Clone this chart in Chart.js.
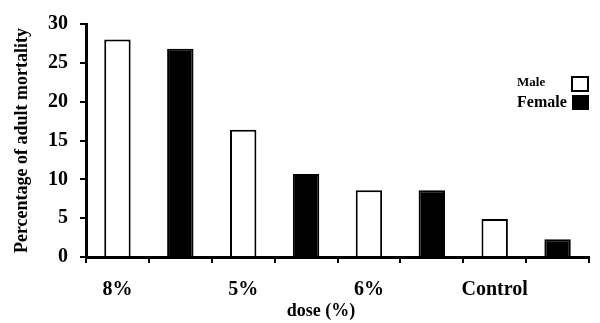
<!DOCTYPE html>
<html>
<head>
<meta charset="utf-8">
<script src="https://cdn.jsdelivr.net/npm/chart.js@4.4.1/dist/chart.umd.min.js"></script>
<style>
  html, body { margin: 0; padding: 0; background: #fff; }
  #wrap { width: 600px; height: 323px; }
</style>
</head>
<body>
<div id="wrap"><canvas id="mortChart"></canvas></div>
<script>
// 8 slots along the axis, a label only under every male bar
const slots = ["8%", "", "5%", "", "6%", "", "Control", ""];
const male = [28.0, null, 16.4, null, 8.6, null, 4.9, null];
const female = [null, 26.8, null, 10.7, null, 8.6, null, 2.3];
const yTicks = [0, 5, 10, 15, 20, 25, 30];

const serif = "'Liberation Serif', 'Times New Roman', serif";

// legend + x title drawn by hand to match the figure
const extras = {
  id: "extras",
  afterDraw(chart) {
    const ctx = chart.ctx;
    const a = chart.chartArea;
    ctx.save();
    ctx.fillStyle = "#000";
    ctx.textBaseline = "middle";
    ctx.textAlign = "left";
    ctx.font = "bold 13px " + serif;
    ctx.fillText("Male", a.right - 72, a.top + 59);
    ctx.font = "bold 16px " + serif;
    ctx.fillText("Female", a.right - 72, a.top + 79);
    ctx.lineWidth = 2;
    ctx.strokeStyle = "#000";
    ctx.strokeRect(a.right - 17, a.top + 53, 16, 14);
    ctx.fillRect(a.right - 17, a.top + 71, 17, 15);
    ctx.textAlign = "center";
    ctx.font = "bold 18px " + serif;
    ctx.fillText("dose (%)", a.left + a.width * 0.467, 311);
    ctx.restore();
  }
};

new Chart(document.getElementById("mortChart"), {
  type: "bar",
  data: {
    labels: slots,
    datasets: [
      {
        label: "Male",
        data: male,
        backgroundColor: "#ffffff",
        borderColor: "#000000",
        borderWidth: 2,
        borderSkipped: "bottom"
      },
      {
        label: "Female",
        data: female,
        backgroundColor: "#000000",
        borderColor: "#000000",
        borderWidth: 2,
        borderSkipped: "bottom"
      }
    ]
  },
  options: {
    responsive: true,
    maintainAspectRatio: false,
    animation: false,
    layout: { padding: { top: 21, right: 11, left: 0, bottom: 0 } },
    datasets: { bar: { categoryPercentage: 1, barPercentage: 0.42 } },
    plugins: {
      legend: { display: false },
      tooltip: { enabled: false }
    },
    scales: {
      x: {
        stacked: true,
        afterFit(s) { s.height = 66; },
        grid: {
          offset: true,
          drawOnChartArea: false,
          drawTicks: true,
          tickLength: 6,
          color: "#000",
          lineWidth: 2
        },
        border: { color: "#000", width: 3 },
        ticks: {
          color: "#000",
          padding: 15,
          maxRotation: 0,
          autoSkip: false,
          font: { family: serif, size: 20, weight: "bold" }
        }
      },
      y: {
        min: 0,
        max: 30,
        afterFit(s) { s.width = 86; },
        afterBuildTicks(s) { s.ticks = yTicks.map(v => ({ value: v })); },
        grid: {
          drawOnChartArea: false,
          drawTicks: true,
          tickLength: 6,
          color: "#000",
          lineWidth: 2
        },
        border: { color: "#000", width: 3 },
        ticks: {
          color: "#000",
          padding: 12,
          font: { family: serif, size: 20, weight: "bold" }
        },
        title: {
          display: true,
          text: "Percentage of adult mortality",
          color: "#000",
          padding: { top: 12, bottom: 4 },
          font: { family: serif, size: 18, weight: "bold" }
        }
      }
    }
  },
  plugins: [extras]
});
</script>
</body>
</html>
